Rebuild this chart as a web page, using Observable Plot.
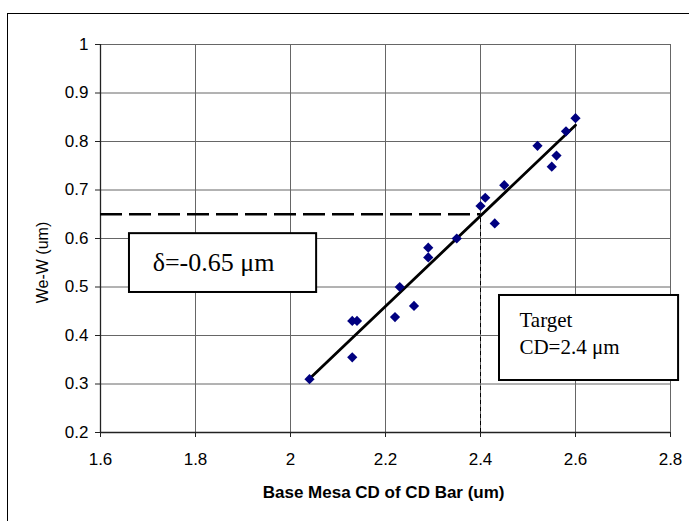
<!DOCTYPE html>
<html>
<head>
<meta charset="utf-8">
<script src="https://cdn.jsdelivr.net/npm/d3@7"></script>
<script src="https://cdn.jsdelivr.net/npm/@observablehq/plot@0.6"></script>
<style>
  html, body { margin: 0; padding: 0; background: #fff; overflow: hidden; }
  #wrap { position: relative; width: 689px; height: 521px; }
  #border { position: absolute; left: 7px; top: 13px; width: 720px; height: 560px;
            border-left: 1.5px solid #000; border-top: 1.5px solid #000; pointer-events: none; }
  #chart svg { display: block; }
</style>
</head>
<body>
<div id="wrap"><div id="chart"></div><div id="border"></div></div>
<script>
// Measured points: base mesa CD (um) vs We-W (um)
const baseCD = [2.04, 2.13, 2.13, 2.14, 2.22, 2.23, 2.26, 2.29, 2.29, 2.35, 2.40, 2.41, 2.43, 2.45, 2.52, 2.55, 2.56, 2.58, 2.60];
const weW    = [0.31, 0.355, 0.43, 0.43, 0.438, 0.50, 0.461, 0.581, 0.561, 0.60, 0.667, 0.684, 0.631, 0.71, 0.791, 0.748, 0.771, 0.821, 0.848];
const xTicks = [1.6, 1.8, 2.0, 2.2, 2.4, 2.6, 2.8];
const yTicks = [0.2, 0.3, 0.4, 0.5, 0.6, 0.7, 0.8, 0.9, 1.0];
const targetCD = 2.4;
const deltaLevel = 0.65;
const deltaLabel = "δ=-0.65 μm";
const targetLabel = "Target\nCD=2.4 μm";
const xTitle = "Base Mesa CD of CD Bar (um)";
const yTitle = "We-W (um)";

const points = baseCD.map((x, i) => ({x, y: weW[i]}));
const fmt = d => String(Math.round(d * 10) / 10);
const sans = "Liberation Sans, Arial, sans-serif";
const serif = "Liberation Serif, Times New Roman, serif";

const chart = Plot.plot({
  width: 689,
  height: 521,
  marginLeft: 100,
  marginRight: 19,
  marginTop: 44,
  marginBottom: 89,
  style: {fontFamily: sans, background: "white"},
  x: {domain: [1.6, 2.8]},
  y: {domain: [0.2, 1.0]},
  marks: [
    Plot.gridX(xTicks, {stroke: "#666", strokeOpacity: 1, strokeWidth: 1}),
    Plot.gridY(yTicks, {stroke: "#666", strokeOpacity: 1, strokeWidth: 1}),
    Plot.axisX(xTicks, {tickFormat: fmt, tickSize: 5, tickPadding: 15, fontSize: 17, label: null, stroke: "#222"}),
    Plot.axisY(yTicks, {tickFormat: fmt, tickSize: 5, tickPadding: 7, fontSize: 17, label: null, stroke: "#222"}),
    Plot.ruleX([1.6], {stroke: "#222", strokeWidth: 1.3}),
    Plot.ruleY([0.2], {stroke: "#222", strokeWidth: 1.3}),
    Plot.ruleY([deltaLevel], {x1: 1.6, x2: targetCD, stroke: "black", strokeWidth: 2.5, strokeDasharray: "22,7"}),
    Plot.ruleX([targetCD], {y1: 0.2, y2: deltaLevel, stroke: "black", strokeWidth: 1, strokeDasharray: "4,3"}),
    Plot.linearRegressionY(points, {x: "x", y: "y", ci: 0, stroke: "black", strokeWidth: 2.8}),
    Plot.dot(points, {x: "x", y: "y", symbol: "diamond2", r: 4.6, fill: "#000080", stroke: "none"}),
    Plot.rect([0], {x1: 1.661, x2: 2.055, y1: 0.4887, y2: 0.610, fill: "white", stroke: "black", strokeWidth: 2}),
    Plot.text([deltaLabel], {x: 1.838, y: 0.5505, text: d => d, fontFamily: serif, fontSize: 26, textAnchor: "middle", lineAnchor: "middle", fill: "black"}),
    Plot.rect([0], {x1: 2.44, x2: 2.817, y1: 0.3072, y2: 0.4825, fill: "white", stroke: "black", strokeWidth: 2}),
    Plot.text([targetLabel], {x: 2.482, y: 0.4072, text: d => d, fontFamily: serif, fontSize: 21, lineHeight: 1.29, textAnchor: "start", lineAnchor: "middle", fill: "black"}),
    Plot.text([xTitle], {x: 2.196, y: 0.0763, text: d => d, fontSize: 17, fontWeight: "bold", textAnchor: "middle", lineAnchor: "middle", fill: "black"}),
    Plot.text([yTitle], {x: 1.478, y: 0.5505, rotate: -90, text: d => d, fontSize: 16, textAnchor: "middle", lineAnchor: "middle", fill: "black"})
  ]
});
document.getElementById("chart").appendChild(chart);
</script>
</body>
</html>
